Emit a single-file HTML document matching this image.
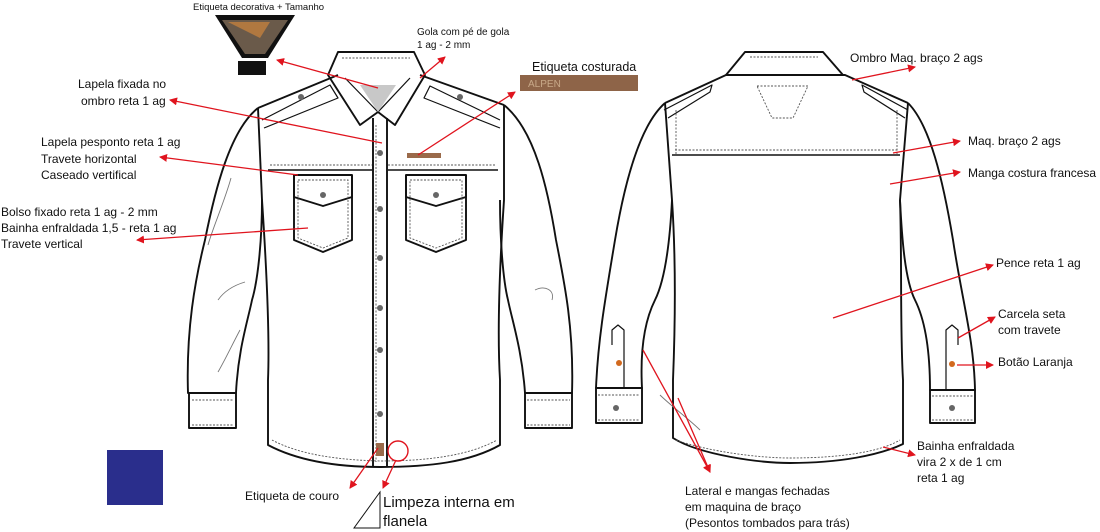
<!DOCTYPE html>
<html><head><meta charset="utf-8"><style>
html,body{margin:0;padding:0;background:#fff;}
svg{display:block}
text{font-family:"Liberation Sans",sans-serif;fill:#111;}
</style></head><body>
<svg width="1100" height="532" viewBox="0 0 1100 532" xmlns="http://www.w3.org/2000/svg">
<defs>
<marker id="ar" markerWidth="8" markerHeight="8" refX="7" refY="4" orient="auto" markerUnits="userSpaceOnUse"><path d="M0,0 L8,4 L0,8 z" fill="#e0141e"/></marker>
</defs>
<g fill="none" stroke="#111" stroke-width="1.9" stroke-linejoin="round">
<path d="M258,108 C230,130 215,190 205,240 C195,280 186,330 188,393 L236,393 C238,350 248,320 252,300 C258,280 262,240 262,200"/>
<path d="M504,105 C535,130 548,190 556,240 C565,285 574,330 572,393 L525,393 C522,350 512,320 508,300 C503,280 500,240 500,200"/>
<rect x="189" y="393" width="47" height="35"/>
<rect x="525" y="393" width="47" height="35"/>
<path d="M258,108 L262,200 C266,260 270,330 268,380 L268,445 C300,462 340,467 380,467 C430,467 470,462 500,445 L500,380 C497,330 500,260 504,200 L504,105"/>
<path d="M258,108 L338,75 M504,105 L420,75"/>
<path d="M338,52 L414,52 L425,75 L395,125 L378,112 L360,125 L328,75 Z"/>
<path d="M345,78 L378,112 L410,78" stroke-width="1.2"/>
<path d="M373,118 L373,467 M387,118 L387,467"/>
<path d="M268,170 L372,170 M388,170 L498,170" stroke-width="1.5"/>
<path d="M262,120 L330,85 L338,98 L264,128" stroke-width="1.2"/>
<path d="M500,120 L430,86 L424,98 L500,128" stroke-width="1.2"/>
<path d="M294,175 L352,175 L352,240 L323,252 L294,240 Z"/>
<path d="M294,175 L294,197 L323,206 L352,197 L352,175"/>
<path d="M406,175 L466,175 L466,240 L436,252 L406,240 Z"/>
<path d="M406,175 L406,197 L436,206 L466,197 L466,175"/>
<path d="M665,103 C640,125 625,180 615,240 C605,300 598,340 596,388 L642,388 C640,350 645,320 655,300 C665,280 670,240 672,200"/>
<path d="M908,103 C930,125 943,180 953,240 C962,300 974,340 975,390 L930,390 C930,350 925,320 915,300 C905,280 902,240 900,200"/>
<rect x="596" y="388" width="46" height="35"/>
<rect x="930" y="390" width="45" height="33"/>
<path d="M665,103 L672,200 C676,260 675,330 673,380 L673,438 C700,455 760,463 790,463 C840,463 880,455 903,444 L903,380 C900,330 902,260 900,200 L908,103"/>
<path d="M665,103 L726,75 L845,75 L908,103"/>
<path d="M726,75 L745,52 L823,52 L843,75"/>
<path d="M672,155 L900,155" stroke-width="1.5"/>
<path d="M664,110 L712,85 L710,92 L668,118 M908,110 L862,85 L864,92 L905,118" stroke-width="1.2"/>
<path d="M612,345 L612,330 L618,325 L624,330 L624,388 M958,345 L958,330 L952,325 L946,330 L946,390" stroke-width="1.2"/>
</g>
<g fill="none" stroke="#777" stroke-width="0.9">
<path d="M231,178 C225,200 212,230 208,245 M218,300 C225,290 235,285 245,282 M240,330 C232,345 225,360 218,372"/>
<path d="M535,290 C545,285 555,290 552,300 M700,430 C690,420 670,405 660,395"/>
</g>
<g fill="none" stroke="#555" stroke-width="0.9" stroke-dasharray="2,1.5">
<path d="M270,165 L372,165 M388,165 L496,165"/>
<path d="M298,180 L348,180 L348,238 L323,248 L298,238 Z M410,180 L462,180 L462,238 L436,248 L410,238 Z"/>
<path d="M376,125 L376,462 M272,440 C300,455 340,460 380,461 C430,461 470,455 497,440"/>
<path d="M342,58 L410,58 M192,400 L234,400 M192,425 L234,425 M527,400 L570,400 M527,425 L570,425"/>
<path d="M675,150 L898,150 M676,110 L676,155 M897,110 L897,155 M750,57 L818,57"/>
<path d="M757,86 L808,86 L793,118 L772,118 Z"/>
<path d="M676,440 C710,452 760,458 790,458 C840,458 880,452 900,440"/>
<path d="M598,395 L640,395 M598,420 L640,420 M932,396 L973,396 M932,420 L973,420"/>
</g>
<polygon points="378,112 360,85 396,85" fill="#c8c8c8"/>
<g fill="#666">
<circle cx="380" cy="153" r="3"/><circle cx="380" cy="209" r="3"/><circle cx="380" cy="258" r="3"/><circle cx="380" cy="308" r="3"/><circle cx="380" cy="350" r="3"/><circle cx="380" cy="414" r="3"/>
<circle cx="323" cy="195" r="3"/><circle cx="436" cy="195" r="3"/><circle cx="301" cy="97" r="3"/><circle cx="460" cy="97" r="3"/>
<circle cx="616" cy="408" r="3"/><circle cx="952" cy="408" r="3"/>
</g>
<circle cx="619" cy="363" r="3" fill="#d2691e"/><circle cx="952" cy="364" r="3" fill="#d2691e"/>
<rect x="407" y="153" width="34" height="5" fill="#9a6a4a"/>
<rect x="376" y="443" width="8" height="13" fill="#9a6a4a"/>
<circle cx="398" cy="451" r="10" fill="none" stroke="#e0141e" stroke-width="1.4"/>
<path d="M215,15 L295,15 L268,58 L242,58 Z" fill="#111"/>
<path d="M222,20 L288,20 L265,54 L245,54 Z" fill="#6a5a4a"/>
<path d="M228,22 L270,22 L260,38 Z" fill="#b07840"/>
<rect x="238" y="61" width="28" height="14" fill="#111"/>
<rect x="520" y="75" width="118" height="16" fill="#8e6448"/>
<text x="528" y="87" font-size="10" style="fill:#c8a888">ALPEN</text>
<rect x="107" y="450" width="56" height="55" fill="#2a2e8c"/>
<path d="M380,492 L380,528 L354,528 Z" fill="none" stroke="#111" stroke-width="1"/>
<g stroke="#e0141e" stroke-width="1.3" fill="none" marker-end="url(#ar)">
<line x1="378" y1="88" x2="277" y2="60"/>
<line x1="420" y1="78" x2="445" y2="57"/>
<line x1="382" y1="143" x2="170" y2="100"/>
<line x1="418" y1="155" x2="515" y2="92"/>
<line x1="298" y1="175" x2="160" y2="157"/>
<line x1="308" y1="228" x2="137" y2="240"/>
<line x1="378" y1="448" x2="350" y2="488"/>
<line x1="396" y1="460" x2="383" y2="488"/>
<line x1="852" y1="80" x2="915" y2="67"/>
<line x1="893" y1="153" x2="960" y2="141"/>
<line x1="890" y1="184" x2="960" y2="172"/>
<line x1="833" y1="318" x2="993" y2="265"/>
<line x1="958" y1="338" x2="995" y2="317"/>
<line x1="957" y1="365" x2="993" y2="365"/>
<line x1="883" y1="447" x2="915" y2="455"/>
<line x1="643" y1="350" x2="710" y2="472"/>
<line x1="678" y1="398" x2="710" y2="472"/>
</g>
<g font-size="12">
<text x="193" y="10" font-size="9.5">Etiqueta decorativa + Tamanho</text>
<text x="417" y="35" font-size="10">Gola com pé de gola</text>
<text x="417" y="48" font-size="10">1 ag - 2 mm</text>
<text x="532" y="71" font-size="12.5">Etiqueta costurada</text>
<text x="78" y="88">Lapela fixada no</text>
<text x="81" y="105">ombro reta 1 ag</text>
<text x="41" y="146">Lapela pesponto reta 1 ag</text>
<text x="41" y="163">Travete horizontal</text>
<text x="41" y="179">Caseado vertifical</text>
<text x="1" y="216">Bolso fixado reta 1 ag - 2 mm</text>
<text x="1" y="232">Bainha enfraldada 1,5 - reta 1 ag</text>
<text x="1" y="248">Travete vertical</text>
<text x="245" y="500">Etiqueta de couro</text>
<text x="383" y="507" font-size="15">Limpeza interna em</text>
<text x="383" y="526" font-size="15">flanela</text>
<text x="850" y="62">Ombro Maq. braço 2 ags</text>
<text x="968" y="145">Maq. braço 2 ags</text>
<text x="968" y="177" textLength="128">Manga costura francesa</text>
<text x="996" y="267">Pence reta 1 ag</text>
<text x="998" y="318">Carcela seta</text>
<text x="998" y="334">com travete</text>
<text x="998" y="366">Botão Laranja</text>
<text x="917" y="450">Bainha enfraldada</text>
<text x="917" y="466">vira 2 x de 1 cm</text>
<text x="917" y="482">reta 1 ag</text>
<text x="685" y="495">Lateral e mangas fechadas</text>
<text x="685" y="511">em maquina de braço</text>
<text x="685" y="527">(Pesontos tombados para trás)</text>
</g>
</svg>
</body></html>
